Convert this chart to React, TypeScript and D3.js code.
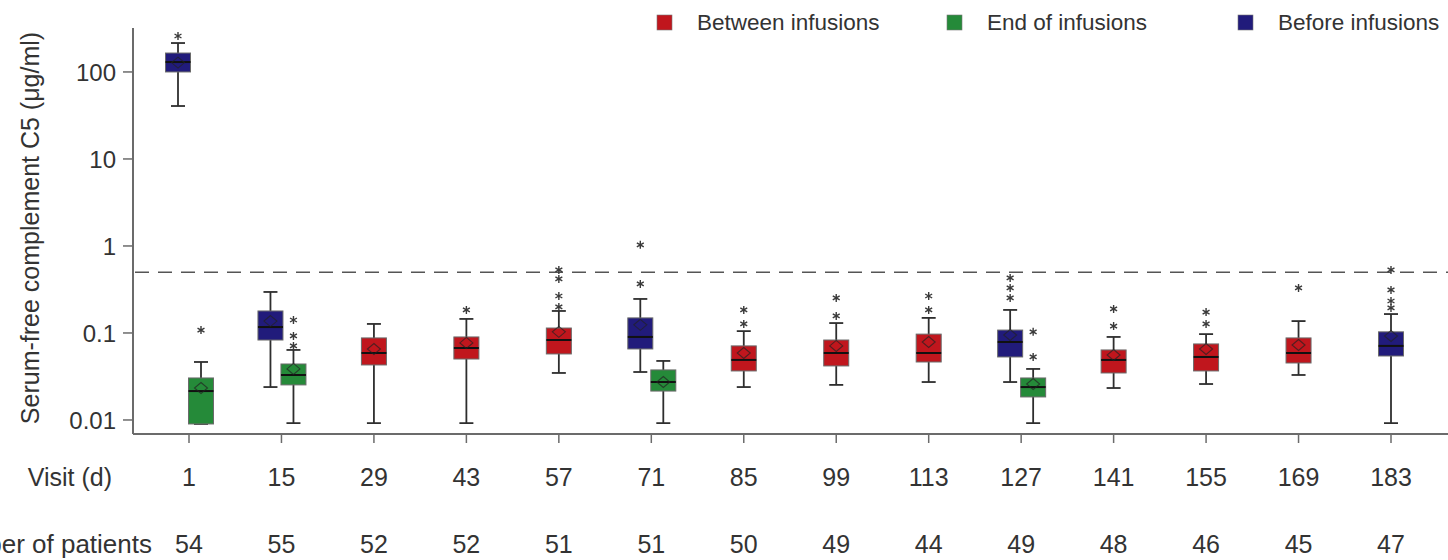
import React from "react";
import * as d3 from "d3";

// Visit days and patient counts along the x axis
const visits = ["1", "15", "29", "43", "57", "71", "85", "99", "113", "127", "141", "155", "169", "183"];
const patientCounts = [54, 55, 52, 52, 51, 51, 50, 49, 44, 49, 48, 46, 45, 47];

// y-axis ticks (µg/ml)
const yTicks = [0.01, 0.1, 1, 10, 100];
const yTickLabels = ["0.01", "0.1", "1", "10", "100"];

// Dashed reference level
const referenceLevel = 0.5;

type BoxStat = {
  visit: string;
  lo: number;
  q1: number;
  median: number;
  q3: number;
  hi: number;
  mean: number;
  outliers: number[];
};

const beforeInfusions: BoxStat[] = [
  { visit: "1", lo: 40.6, q1: 100, median: 130, q3: 165, hi: 215, mean: 128, outliers: [259] },
  { visit: "15", lo: 0.0239, q1: 0.083, median: 0.117, q3: 0.179, hi: 0.296, mean: 0.137, outliers: [] },
  { visit: "71", lo: 0.0356, q1: 0.0655, median: 0.09, q3: 0.149, hi: 0.246, mean: 0.124, outliers: [0.366, 1.03] },
  { visit: "127", lo: 0.0273, q1: 0.053, median: 0.0788, q3: 0.108, hi: 0.184, mean: 0.0948, outliers: [0.253, 0.329, 0.429] },
  { visit: "183", lo: 0.0092, q1: 0.0544, median: 0.071, q3: 0.103, hi: 0.165, mean: 0.0924, outliers: [0.194, 0.233, 0.312, 0.53] },
];

const endOfInfusions: BoxStat[] = [
  { visit: "1", lo: 0.009, q1: 0.009, median: 0.0215, q3: 0.0304, hi: 0.0464, mean: 0.0233, outliers: [0.108] },
  { visit: "15", lo: 0.0092, q1: 0.0253, median: 0.0329, q3: 0.044, hi: 0.0638, mean: 0.0386, outliers: [0.071, 0.0924, 0.141] },
  { visit: "71", lo: 0.0092, q1: 0.0215, median: 0.0273, q3: 0.0376, hi: 0.0477, mean: 0.0273, outliers: [] },
  { visit: "127", lo: 0.0092, q1: 0.0184, median: 0.0239, q3: 0.0304, hi: 0.0386, mean: 0.0259, outliers: [0.053, 0.103] },
];

const betweenInfusions: BoxStat[] = [
  { visit: "29", lo: 0.0092, q1: 0.0429, median: 0.0589, q3: 0.0877, hi: 0.127, mean: 0.0655, outliers: [] },
  { visit: "43", lo: 0.0092, q1: 0.0502, median: 0.0672, q3: 0.09, hi: 0.145, mean: 0.0768, outliers: [0.184] },
  { visit: "57", lo: 0.0347, q1: 0.0574, median: 0.083, q3: 0.114, hi: 0.179, mean: 0.103, outliers: [0.199, 0.266, 0.418, 0.53] },
  { visit: "85", lo: 0.0239, q1: 0.0366, median: 0.049, q3: 0.071, hi: 0.105, mean: 0.0589, outliers: [0.127, 0.184] },
  { visit: "99", lo: 0.0253, q1: 0.0418, median: 0.0589, q3: 0.083, hi: 0.13, mean: 0.071, outliers: [0.157, 0.253] },
  { visit: "113", lo: 0.0273, q1: 0.0464, median: 0.0589, q3: 0.097, hi: 0.149, mean: 0.0788, outliers: [0.184, 0.266] },
  { visit: "141", lo: 0.0233, q1: 0.0347, median: 0.049, q3: 0.0638, hi: 0.09, mean: 0.0558, outliers: [0.12, 0.189] },
  { visit: "155", lo: 0.0259, q1: 0.0366, median: 0.053, q3: 0.0748, hi: 0.097, mean: 0.0655, outliers: [0.127, 0.174] },
  { visit: "169", lo: 0.0329, q1: 0.0452, median: 0.0589, q3: 0.0877, hi: 0.137, mean: 0.0728, outliers: [0.329] },
];

const legendLabels = ["Between infusions", "End of infusions", "Before infusions"];
const seriesColors = ["#c0161d", "#258a39", "#211b7b"];

const FONT = "'Liberation Sans', Arial, sans-serif";
const TEXT = "#333";
const AXIS = "#6b6b6b";

const W = 1448;
const H = 560;
const BOX_W = 25;
const CAP_W = 14;

// Visits where two boxes share one tick
const pairedVisits = new Set(["1", "15", "71", "127"]);

function asteriskPath(cx: number, cy: number, r: number) {
  const parts: string[] = [];
  for (let k = 0; k < 3; k++) {
    const a = (Math.PI / 3) * k + Math.PI / 2;
    const dx = Math.cos(a) * r;
    const dy = Math.sin(a) * r;
    parts.push(`M${cx - dx},${cy - dy}L${cx + dx},${cy + dy}`);
  }
  return parts.join("");
}

export default function App() {
  const y = d3.scaleLog().domain([0.0069, 320]).range([434, 28]);
  const x = d3.scalePoint<string>().domain(visits).range([189, 1391]);
  const xLeft = 133;
  const xAxisY = y.range()[0];
  const yTop = y.range()[1];

  const renderBoxes = (data: BoxStat[], color: string, pairOffset: number, key: string) =>
    data.map((d) => {
      const cx = (x(d.visit) as number) + (pairedVisits.has(d.visit) ? pairOffset : 0);
      const yq1 = y(d.q1);
      const yq3 = y(d.q3);
      const ym = y(d.mean);
      const dm = 5.5;
      return (
        <g key={`${key}-${d.visit}`}>
          <line x1={cx} x2={cx} y1={y(d.hi)} y2={y(d.lo)} stroke="#2e2e2e" strokeWidth={1.8} />
          <line x1={cx - CAP_W / 2} x2={cx + CAP_W / 2} y1={y(d.hi)} y2={y(d.hi)} stroke="#2e2e2e" strokeWidth={1.8} />
          <line x1={cx - CAP_W / 2} x2={cx + CAP_W / 2} y1={y(d.lo)} y2={y(d.lo)} stroke="#2e2e2e" strokeWidth={1.8} />
          <rect
            x={cx - BOX_W / 2}
            y={yq3}
            width={BOX_W}
            height={Math.max(1, yq1 - yq3)}
            fill={color}
            stroke="#6a6a6a"
            strokeWidth={1}
          />
          <line x1={cx - BOX_W / 2} x2={cx + BOX_W / 2} y1={y(d.median)} y2={y(d.median)} stroke="#111" strokeWidth={2} />
          <path
            d={`M${cx},${ym - dm}L${cx + dm + 1},${ym}L${cx},${ym + dm}L${cx - dm - 1},${ym}Z`}
            fill="none"
            stroke="#222"
            strokeOpacity={0.7}
            strokeWidth={1.1}
          />
          {d.outliers.map((o, i) => (
            <path key={i} d={asteriskPath(cx, y(o), 4)} stroke="#3a3a3a" strokeWidth={1.4} fill="none" />
          ))}
        </g>
      );
    });

  const legendX = [657, 947, 1238];

  return (
    <svg
      width={W}
      height={H}
      style={{ position: "fixed", left: 0, top: 0, background: "#fff" }}
      fontFamily={FONT}
    >
      {/* legend */}
      {legendLabels.map((label, i) => (
        <g key={label}>
          <rect x={legendX[i]} y={15} width={15} height={15} fill={seriesColors[i]} stroke="#777" strokeWidth={0.6} />
          <text x={legendX[i] + 40} y={30} fontSize={22.5} fill={TEXT}>
            {label}
          </text>
        </g>
      ))}

      {/* y axis */}
      <line x1={xLeft} x2={xLeft} y1={yTop} y2={xAxisY} stroke={AXIS} strokeWidth={2} />
      {yTicks.map((t, i) => (
        <g key={t}>
          <line x1={xLeft - 10} x2={xLeft} y1={y(t)} y2={y(t)} stroke={AXIS} strokeWidth={1.5} />
          <text x={xLeft - 17} y={y(t)} dy="0.36em" textAnchor="end" fontSize={24} fill={TEXT}>
            {yTickLabels[i]}
          </text>
        </g>
      ))}
      <text
        transform={`translate(39,${228}) rotate(-90)`}
        textAnchor="middle"
        fontSize={25}
        fill={TEXT}
      >
        Serum-free complement C5 (μg/ml)
      </text>

      {/* x axis */}
      <line x1={xLeft} x2={W} y1={xAxisY} y2={xAxisY} stroke={AXIS} strokeWidth={2} />
      {visits.map((v) => (
        <line key={v} x1={x(v)} x2={x(v)} y1={xAxisY} y2={xAxisY + 9} stroke={AXIS} strokeWidth={1.5} />
      ))}
      <text x={112} y={486} textAnchor="end" fontSize={25} fill={TEXT}>
        Visit (d)
      </text>
      {visits.map((v) => (
        <text key={v} x={x(v)} y={486} textAnchor="middle" fontSize={25} fill={TEXT}>
          {v}
        </text>
      ))}
      <text x={152} y={553} textAnchor="end" fontSize={26} fill={TEXT}>
        Number of patients
      </text>
      {visits.map((v, i) => (
        <text key={v} x={x(v)} y={553} textAnchor="middle" fontSize={25} fill={TEXT}>
          {patientCounts[i]}
        </text>
      ))}

      {/* reference level */}
      <line
        x1={xLeft + 2}
        x2={W}
        y1={y(referenceLevel)}
        y2={y(referenceLevel)}
        stroke="#555"
        strokeWidth={1.5}
        strokeDasharray="14 9"
      />

      {/* boxes */}
      {renderBoxes(betweenInfusions, seriesColors[0], 0, "between")}
      {renderBoxes(endOfInfusions, seriesColors[1], 12, "end")}
      {renderBoxes(beforeInfusions, seriesColors[2], -11, "before")}
    </svg>
  );
}
